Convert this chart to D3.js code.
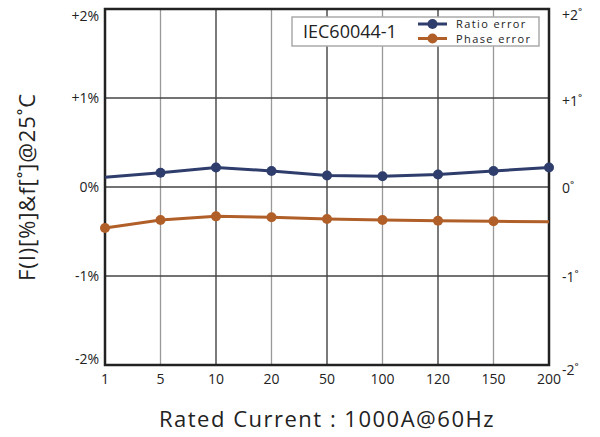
<!DOCTYPE html>
<html lang="en">
<head>
    <meta charset="UTF-8">
    <script src="https://d3js.org/d3.v7.min.js"></script>
    <title>IEC60044-1</title>
    <style>
        body { margin: 0; background: #fff; }
        text { font-family: "Open Sans", "DejaVu Sans", sans-serif; fill: #222; }
    </style>
</head>
<body>
    <div id="chart"></div>
    <script>
        // Data
        var currents = ["1", "5", "10", "20", "50", "100", "120", "150", "200"];
        var ratioError = [0.11, 0.16, 0.22, 0.18, 0.13, 0.12, 0.14, 0.18, 0.22];
        var phaseError = [-0.46, -0.37, -0.33, -0.34, -0.36, -0.37, -0.38, -0.385, -0.39];
        var yTicks = [-2, -1, 0, 1, 2];
        var leftLabels = ["-2%", "-1%", "0%", "+1%", "+2%"];
        var rightLabels = ["-2˚", "-1˚", "0˚", "+1˚", "+2˚"];
        var darkX = ["10", "50", "120"];

        var margin = { top: 9, right: 51, bottom: 72, left: 105 },
            width = 600 - margin.left - margin.right,
            height = 437 - margin.top - margin.bottom;

        var svg = d3.select("#chart").append("svg")
            .attr("width", 600)
            .attr("height", 437);

        var g = svg.append("g")
            .attr("transform", "translate(" + margin.left + "," + margin.top + ")");

        var x = d3.scalePoint().domain(currents).range([0, width]).padding(0);
        var y = d3.scaleLinear().domain([-2, 2]).range([height, 0]);

        // vertical grid
        g.selectAll("line.vgrid")
            .data(currents.slice(1, -1))
            .enter().append("line")
            .attr("class", "vgrid")
            .attr("x1", function (d) { return x(d); })
            .attr("x2", function (d) { return x(d); })
            .attr("y1", 0).attr("y2", height)
            .attr("stroke", function (d) { return darkX.indexOf(d) >= 0 ? "#333" : "#999"; })
            .attr("stroke-width", 1.3);

        // horizontal grid
        g.selectAll("line.hgrid")
            .data(yTicks.slice(1, -1))
            .enter().append("line")
            .attr("class", "hgrid")
            .attr("x1", 0).attr("x2", width)
            .attr("y1", function (d) { return y(d); })
            .attr("y2", function (d) { return y(d); })
            .attr("stroke", "#444")
            .attr("stroke-width", 1.3);

        // frame
        g.append("rect")
            .attr("width", width).attr("height", height)
            .attr("fill", "none")
            .attr("stroke", "#222")
            .attr("stroke-width", 2.5);

        // left tick labels (end ones pulled inside the frame)
        g.selectAll("text.yl")
            .data(yTicks)
            .enter().append("text")
            .attr("x", -6)
            .attr("y", function (d) {
                var off = d === 2 ? 12 : (d === -2 ? -1 : 5);
                return y(d) + off;
            })
            .attr("text-anchor", "end")
            .attr("font-size", "14px")
            .text(function (d, i) { return leftLabels[i]; });

        // right tick labels
        g.selectAll("text.yr")
            .data(yTicks)
            .enter().append("text")
            .attr("x", width + 13)
            .attr("y", function (d) {
                var off = d === 2 ? 11 : (d === -2 ? 10 : (d === 1 ? 8 : 6));
                return y(d) + off;
            })
            .attr("font-size", "14px")
            .text(function (d, i) { return rightLabels[i]; });

        // x tick labels
        g.selectAll("text.xl")
            .data(currents)
            .enter().append("text")
            .attr("x", function (d) { return x(d); })
            .attr("y", height + 19)
            .attr("text-anchor", "middle")
            .attr("font-size", "14px")
            .text(function (d) { return d; });

        // axis titles
        svg.append("text")
            .attr("transform", "translate(35," + (margin.top + height / 2) + ")rotate(-90)")
            .attr("text-anchor", "middle")
            .attr("font-size", "22px")
            .attr("letter-spacing", "0.9px")
            .text("F(I)[%]&f[˚]@25˚C");

        svg.append("text")
            .attr("x", margin.left + width / 2)
            .attr("y", 427)
            .attr("text-anchor", "middle")
            .attr("font-size", "22px")
            .attr("letter-spacing", "1.5px")
            .text("Rated Current : 1000A@60Hz");

        var line = d3.line()
            .x(function (d, i) { return x(currents[i]); })
            .y(function (d) { return y(d); });

        var series = [
            { values: ratioError, color: "#2e3d6b", markers: [1, 9] },
            { values: phaseError, color: "#b15f29", markers: [0, 8] }
        ];

        series.forEach(function (s) {
            g.append("path")
                .datum(s.values)
                .attr("fill", "none")
                .attr("stroke", s.color)
                .attr("stroke-width", 3)
                .attr("d", line);

            g.selectAll(null)
                .data(s.values.slice(s.markers[0], s.markers[1]))
                .enter().append("circle")
                .attr("cx", function (d, i) { return x(currents[i + s.markers[0]]); })
                .attr("cy", function (d) { return y(d); })
                .attr("r", 5)
                .attr("fill", s.color);
        });

        // legend
        var lg = svg.append("g").attr("transform", "translate(292,17)");
        lg.append("rect")
            .attr("width", 247).attr("height", 29)
            .attr("fill", "#fff")
            .attr("stroke", "#aaa")
            .attr("stroke-width", 1.5);
        lg.append("text")
            .attr("x", 11).attr("y", 21)
            .attr("font-size", "18px")
            .text("IEC60044-1");

        var legendItems = [
            { name: "Ratio error", color: series[0].color },
            { name: "Phase error", color: series[1].color }
        ];
        legendItems.forEach(function (d, i) {
            var yy = 7 + i * 14.5;
            lg.append("line")
                .attr("x1", 126).attr("x2", 155)
                .attr("y1", yy).attr("y2", yy)
                .attr("stroke", d.color).attr("stroke-width", 3);
            lg.append("circle")
                .attr("cx", 140.5).attr("cy", yy).attr("r", 5)
                .attr("fill", d.color);
            lg.append("text")
                .attr("x", 164).attr("y", yy + 4)
                .attr("font-size", "11px")
                .attr("letter-spacing", "1.4px")
                .text(d.name);
        });
    </script>
</body>
</html>
